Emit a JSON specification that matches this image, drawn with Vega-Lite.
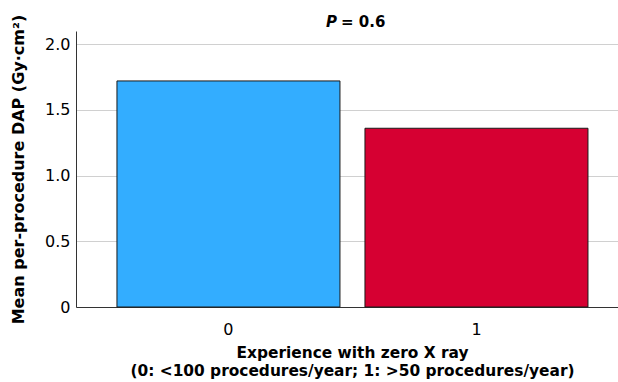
{
  "$schema": "https://vega.github.io/schema/vega-lite/v6.json",
  "width": 542,
  "height": 276,
  "autosize": {"type": "none"},
  "padding": {"left": 76, "top": 31, "right": 0, "bottom": 75},
  "background": "white",
  "config": {"view": {"stroke": null}, "font": "DejaVu Sans"},
  "data": {"values": [{"group": "0", "dap": 1.72}, {"group": "1", "dap": 1.36}]},
  "layer": [
    {
      "mark": {"type": "bar", "stroke": "#1a1a1a", "strokeWidth": 1},
      "encoding": {
        "x": {
          "field": "group",
          "type": "nominal",
          "scale": {"paddingInner": 0.1008, "paddingOuter": 0.1431, "align": 0.577},
          "axis": {
            "title": ["Experience with zero X ray", "(0: <100 procedures/year; 1: >50 procedures/year)"],
            "labelAngle": 0,
            "ticks": false,
            "domainColor": "#333333",
            "labelFontSize": 16,
            "labelColor": "#000000",
            "labelPadding": 14,
            "titleFontSize": 15.4,
            "titleFontWeight": "bold",
            "titleColor": "#000000",
            "titlePadding": 8,
            "titleLineHeight": 18,
            "titleX": 276
          }
        },
        "y": {
          "field": "dap",
          "type": "quantitative",
          "scale": {"domain": [0, 2.1], "nice": false},
          "axis": {
            "title": "Mean per-procedure DAP (Gy·cm²)",
            "values": [0, 0.5, 1, 1.5, 2],
            "labelExpr": "datum.value == 0 ? '0' : format(datum.value, '.1f')",
            "grid": true,
            "gridColor": "#d0d0d0",
            "ticks": false,
            "domainColor": "#333333",
            "labelFontSize": 16,
            "labelColor": "#000000",
            "labelPadding": 6,
            "titleFontSize": 16,
            "titleFontWeight": "bold",
            "titleColor": "#000000",
            "titlePadding": 18
          }
        },
        "color": {
          "field": "group",
          "type": "nominal",
          "scale": {"range": ["#33adff", "#d60032"]},
          "legend": null
        }
      }
    },
    {
      "data": {"values": [{"label": "P"}]},
      "mark": {"type": "text", "fontStyle": "italic", "fontWeight": "bold", "fontSize": 15, "align": "right", "baseline": "middle", "dx": -10, "color": "#000000"},
      "encoding": {"y": {"datum": 2.165}, "text": {"field": "label"}}
    },
    {
      "data": {"values": [{"label": "= 0.6"}]},
      "mark": {"type": "text", "fontWeight": "bold", "fontSize": 15, "align": "left", "baseline": "middle", "dx": -6, "color": "#000000"},
      "encoding": {"y": {"datum": 2.165}, "text": {"field": "label"}}
    }
  ]
}
